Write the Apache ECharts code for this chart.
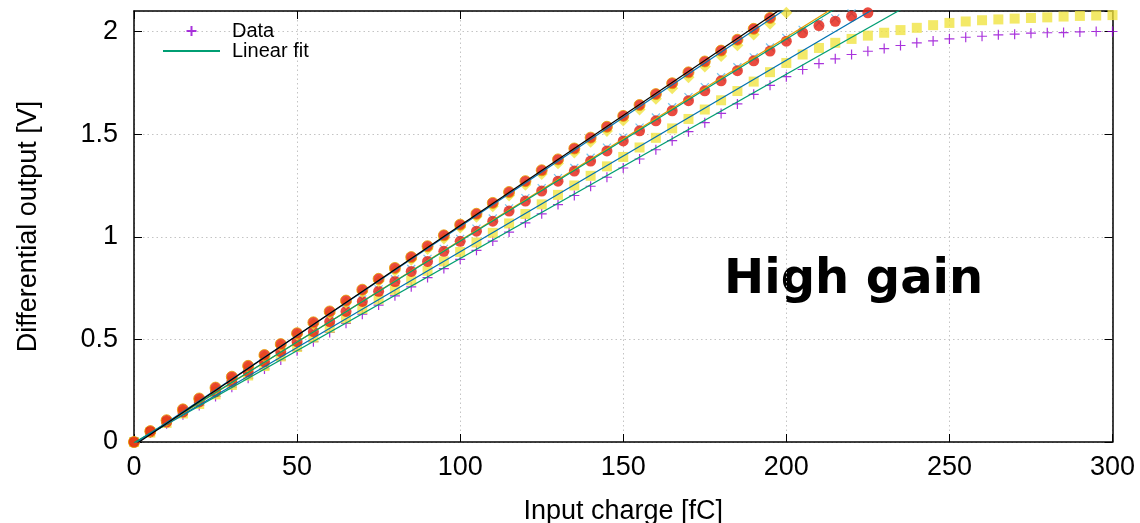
<!DOCTYPE html>
<html><head><meta charset="utf-8">
<script src="https://cdn.jsdelivr.net/npm/echarts@6/dist/echarts.min.js"></script>
<style>html,body{margin:0;padding:0;background:#fff}#c{width:1140px;height:523px}</style>
</head><body><div id="c"></div>
<script>
// Input charge [fC] sample points
const charge = [0,5,10,15,20,25,30,35,40,45,50,55,60,65,70,75,80,85,90,95,100,105,110,115,120,125,130,135,140,145,150,155,160,165,170,175,180,185,190,195,200,205,210,215,220,225,230,235,240,245,250,255,260,265,270,275,280,285,290,295,300];
// Differential output [V]
const chPlus = [0.000,0.045,0.089,0.133,0.178,0.222,0.267,0.311,0.356,0.400,0.445,0.489,0.534,0.578,0.623,0.667,0.712,0.756,0.801,0.845,0.890,0.934,0.979,1.023,1.068,1.112,1.157,1.201,1.246,1.290,1.335,1.379,1.424,1.468,1.512,1.556,1.601,1.647,1.694,1.738,1.780,1.815,1.844,1.867,1.888,1.904,1.917,1.932,1.945,1.954,1.964,1.972,1.977,1.984,1.987,1.992,1.994,1.995,1.998,2.000,2.000];
const chSquare = [0.000,0.046,0.093,0.139,0.185,0.232,0.278,0.324,0.370,0.417,0.463,0.509,0.556,0.602,0.648,0.695,0.741,0.787,0.834,0.880,0.926,0.972,1.019,1.065,1.111,1.158,1.204,1.250,1.297,1.343,1.389,1.435,1.482,1.528,1.574,1.620,1.665,1.710,1.756,1.802,1.847,1.888,1.920,1.945,1.964,1.980,1.994,2.007,2.018,2.031,2.042,2.049,2.055,2.059,2.063,2.066,2.069,2.073,2.076,2.078,2.080];
const chCross = [0.004,0.053,0.102,0.151,0.201,0.250,0.300,0.349,0.398,0.448,0.497,0.547,0.596,0.645,0.695,0.744,0.793,0.843,0.892,0.941,0.990,1.040,1.089,1.138,1.188,1.237,1.286,1.335,1.385,1.434,1.483,1.532,1.581,1.631,1.680,1.729,1.777,1.826,1.874,1.922,1.969,2.008,2.042,2.064,2.088];
const chCircle = [0.000,0.049,0.097,0.146,0.195,0.244,0.293,0.342,0.391,0.440,0.489,0.538,0.587,0.636,0.685,0.734,0.782,0.831,0.880,0.929,0.978,1.027,1.076,1.125,1.174,1.223,1.271,1.320,1.369,1.418,1.467,1.516,1.565,1.614,1.663,1.711,1.760,1.809,1.857,1.905,1.953,1.994,2.029,2.050,2.075,2.091];
const chDiamond = [0.000,0.051,0.103,0.155,0.208,0.260,0.312,0.365,0.417,0.469,0.522,0.574,0.626,0.678,0.731,0.783,0.835,0.888,0.940,0.992,1.045,1.097,1.149,1.201,1.254,1.306,1.358,1.411,1.463,1.515,1.567,1.620,1.672,1.724,1.777,1.829,1.881,1.933,1.986,2.038,2.092];
const chDot = [0.000,0.053,0.106,0.159,0.212,0.265,0.318,0.371,0.424,0.477,0.530,0.583,0.636,0.689,0.742,0.795,0.848,0.901,0.954,1.007,1.059,1.112,1.165,1.218,1.271,1.324,1.377,1.430,1.483,1.536,1.589,1.642,1.695,1.748,1.801,1.854,1.907,1.960,2.013,2.066];
// Linear fit parameters: [green(+), blue(squares), orange(x), green(circles), blue(top), black(top)]
const fitSlope = [0.00898,0.00933,0.00990,0.00984,0.01062,0.01072];
const fitIntercept = [-0.004,-0.006,-0.008,-0.005,-0.012,-0.017];
const fitColor = ['#009e73','#0072b2','#e69f00','#009e73','#0072b2','#000000'];
const xTicks = [0,50,100,150,200,250,300];

const pts = ys => ys.map((y,i)=>[charge[i], y]);
const fitLine = k => [[xTicks[0], fitIntercept[k]], [xTicks[xTicks.length-1], fitSlope[k]*xTicks[xTicks.length-1] + fitIntercept[k]]];
const PLUS = 'path://M5,0L5,10M0,5L10,5';
const CROSS = 'path://M0,0L10,10M10,0L0,10';

const lineS = (k, name) => ({
  name: name || ('fit'+k), type:'line', data: fitLine(k), symbol:'none', clip:true,
  lineStyle:{color: fitColor[k], width:1.2}, itemStyle:{color: fitColor[k]}, silent:true, animation:false
});

const chart = echarts.init(document.getElementById('c'), null, {renderer:'canvas'});
const axisFont = {fontFamily:'Liberation Sans', fontSize:27, color:'#000'};
const frameLine = {show:true, onZero:false, lineStyle:{color:'#000', width:1.5}};
const frameTick = {show:true, inside:true, length:8, lineStyle:{color:'#000', width:1}};
chart.setOption({
  animation:false,
  backgroundColor:'#fff',
  grid:{left:134, right:27.5, top:11, bottom:81, containLabel:false, outerBoundsMode:'none'},
  legend:{
    data:['Data', {name:'Linear fit', itemStyle:{opacity:0}}], orient:'vertical', left:162, top:21, padding:0,
    itemWidth:57, itemHeight:10, itemGap:0, selectedMode:false,
    textStyle:{fontFamily:'Liberation Sans', fontSize:20, color:'#000', lineHeight:20, padding:[0,0,0,7]}
  },
  xAxis:[{
    type:'value', min:0, max:300, interval:50, position:'bottom',
    name:'Input charge [fC]', nameLocation:'middle', nameGap:56,
    nameTextStyle:axisFont,
    axisLine:frameLine, axisTick:frameTick,
    axisLabel:{...axisFont, margin:12},
    splitLine:{show:true, lineStyle:{color:'#c4c4c4', width:1, type:[1.5,3]}}
  },{
    type:'value', min:0, max:300, interval:50, position:'top',
    axisLine:frameLine, axisTick:frameTick,
    axisLabel:{show:false}, splitLine:{show:false}
  }],
  yAxis:[{
    type:'value', min:0, max:2.1, interval:0.5, position:'left',
    name:'Differential output [V]', nameLocation:'middle', nameGap:92, nameRotate:90,
    nameTextStyle:axisFont,
    axisLine:frameLine, axisTick:frameTick,
    axisLabel:{...axisFont, margin:16, showMaxLabel:false},
    splitLine:{show:true, lineStyle:{color:'#c4c4c4', width:1, type:[1.5,3]}}
  },{
    type:'value', min:0, max:2.1, interval:0.5, position:'right',
    axisLine:frameLine, axisTick:frameTick,
    axisLabel:{show:false}, splitLine:{show:false}
  }],
  graphic:[{
    type:'text', left:724, top:257, silent:true,
    style:{text:'High gain', font:'bold 48px "DejaVu Sans"', fill:'#000'}
  }],
  series:[
    {name:'Data', type:'scatter', data:pts(chPlus), symbol:PLUS, symbolSize:10,
     itemStyle:{color:'transparent', borderColor:'#9400d3', borderWidth:1.2}},
    lineS(0,'Linear fit'),
    {name:'sq', type:'scatter', data:pts(chSquare), symbol:'rect', symbolSize:10,
     itemStyle:{color:'#f0e442'}},
    lineS(1),
    {name:'x', type:'scatter', data:pts(chCross), symbol:CROSS, symbolSize:8,
     itemStyle:{color:'transparent', borderColor:'#56b4e9', borderWidth:1.2}},
    lineS(2), lineS(3),
    {name:'circ', type:'scatter', data:pts(chCircle), symbol:'circle', symbolSize:11,
     itemStyle:{color:'#e51e10'}},
    {name:'dia', type:'scatter', data:pts(chDiamond), symbol:'diamond', symbolSize:12,
     itemStyle:{color:'#f0e442'}},
    {name:'dot', type:'scatter', data:pts(chDot), symbol:'circle', symbolSize:11,
     itemStyle:{color:'#e51e10', borderColor:'#e69f00', borderWidth:1}},
    lineS(4), lineS(5)
  ]
});
</script></body></html>
